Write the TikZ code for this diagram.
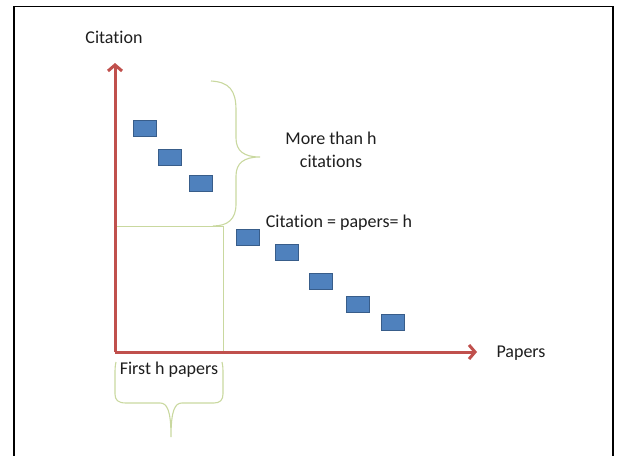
\documentclass[tikz,border=0pt]{standalone}
\usepackage{fontspec}
\setmainfont{Carlito}[Ligatures={NoCommon,NoRequired,NoContextual},RawFeature={-liga;-clig;-dlig;-calt}]
\usetikzlibrary{arrows.meta}
\definecolor{axisred}{HTML}{C0504D}
\definecolor{boxfill}{HTML}{4F81BD}
\definecolor{boxdraw}{HTML}{385D8A}
\definecolor{braceg}{HTML}{C9D89F}
\definecolor{txt}{HTML}{1E1E1E}
\newcommand\myti{t\kern0pt i}
\begin{document}
\begin{tikzpicture}[x=1pt,y=-1pt,
  paper/.style={draw=boxdraw,fill=boxfill,line width=1.2pt,rectangle,minimum width=23pt,minimum height=15.5pt,inner sep=0pt,anchor=north west},
  lbl/.style={font=\fontsize{18}{21}\selectfont,text=txt,inner sep=0pt,align=center},
  axis/.style={draw=axisred,line width=3pt,-{Straight Barb[length=6pt,width=14pt]}},
  guide/.style={draw=braceg,line width=1pt},
  brace/.style={draw=braceg,line width=1.1pt}]
\useasboundingbox (0,0) rectangle (618,455);
\draw[line width=1.5pt,black] (14,460) -- (14,6.5) -- (613,6.5) -- (613,460);
% coordinates
\coordinate (O) at (115,352);
\coordinate (ytip) at (115,63);
\coordinate (xtip) at (477,352);
\coordinate (gl) at (115,226);
\coordinate (gc) at (223.5,226);
\coordinate (gb) at (223.5,352);
% guide lines
\draw[guide] (gl) -- (gc) -- (gb);
% axes
\draw[axis] (O) -- (ytip);
\draw[axis] (O) -- (xtip);
% labels
\node[lbl] (cit) at (114,37) {Cita\myti on};
\node[lbl] (pap) at (521,353) {Papers};
\node[lbl] (more) at (331,150) {More than h\\[2pt]cita\myti ons};
\node[lbl] (eq) at (339,223) {Cita\myti on = papers= h};
\node[lbl] (first) at (169,370) {First h papers};
% papers
\node[paper] (b1) at (132.5,120) {};
\node[paper] (b2) at (157.5,149) {};
\node[paper] (b3) at (189,175) {};
\node[paper] (b4) at (235.5,229) {};
\node[paper] (b5) at (274.5,244) {};
\node[paper] (b6) at (308.5,273) {};
\node[paper] (b7) at (345.5,296) {};
\node[paper] (b8) at (380.5,314) {};
% upper brace
\draw[brace] (211,81) .. controls (229,82) and (236,90) .. (236,110) -- (236,138)
  .. controls (236,151) and (244,157) .. (260,157)
  .. controls (244,157) and (236,163) .. (236,176) -- (236,204)
  .. controls (236,219) and (228,226) .. (213,226);
% lower brace
\draw[brace] (116,362) .. controls (115,366) and (115,370) .. (115,374) -- (115,394)
  .. controls (115,400) and (118,403) .. (126,403) -- (160,403)
  .. controls (167,403) and (171,410) .. (171,437)
  .. controls (171,410) and (175,403) .. (182,403) -- (214,403)
  .. controls (220,403) and (223,400) .. (223,394) -- (223,374)
  .. controls (223,370) and (223,366) .. (222,362);
\end{tikzpicture}
\end{document}
